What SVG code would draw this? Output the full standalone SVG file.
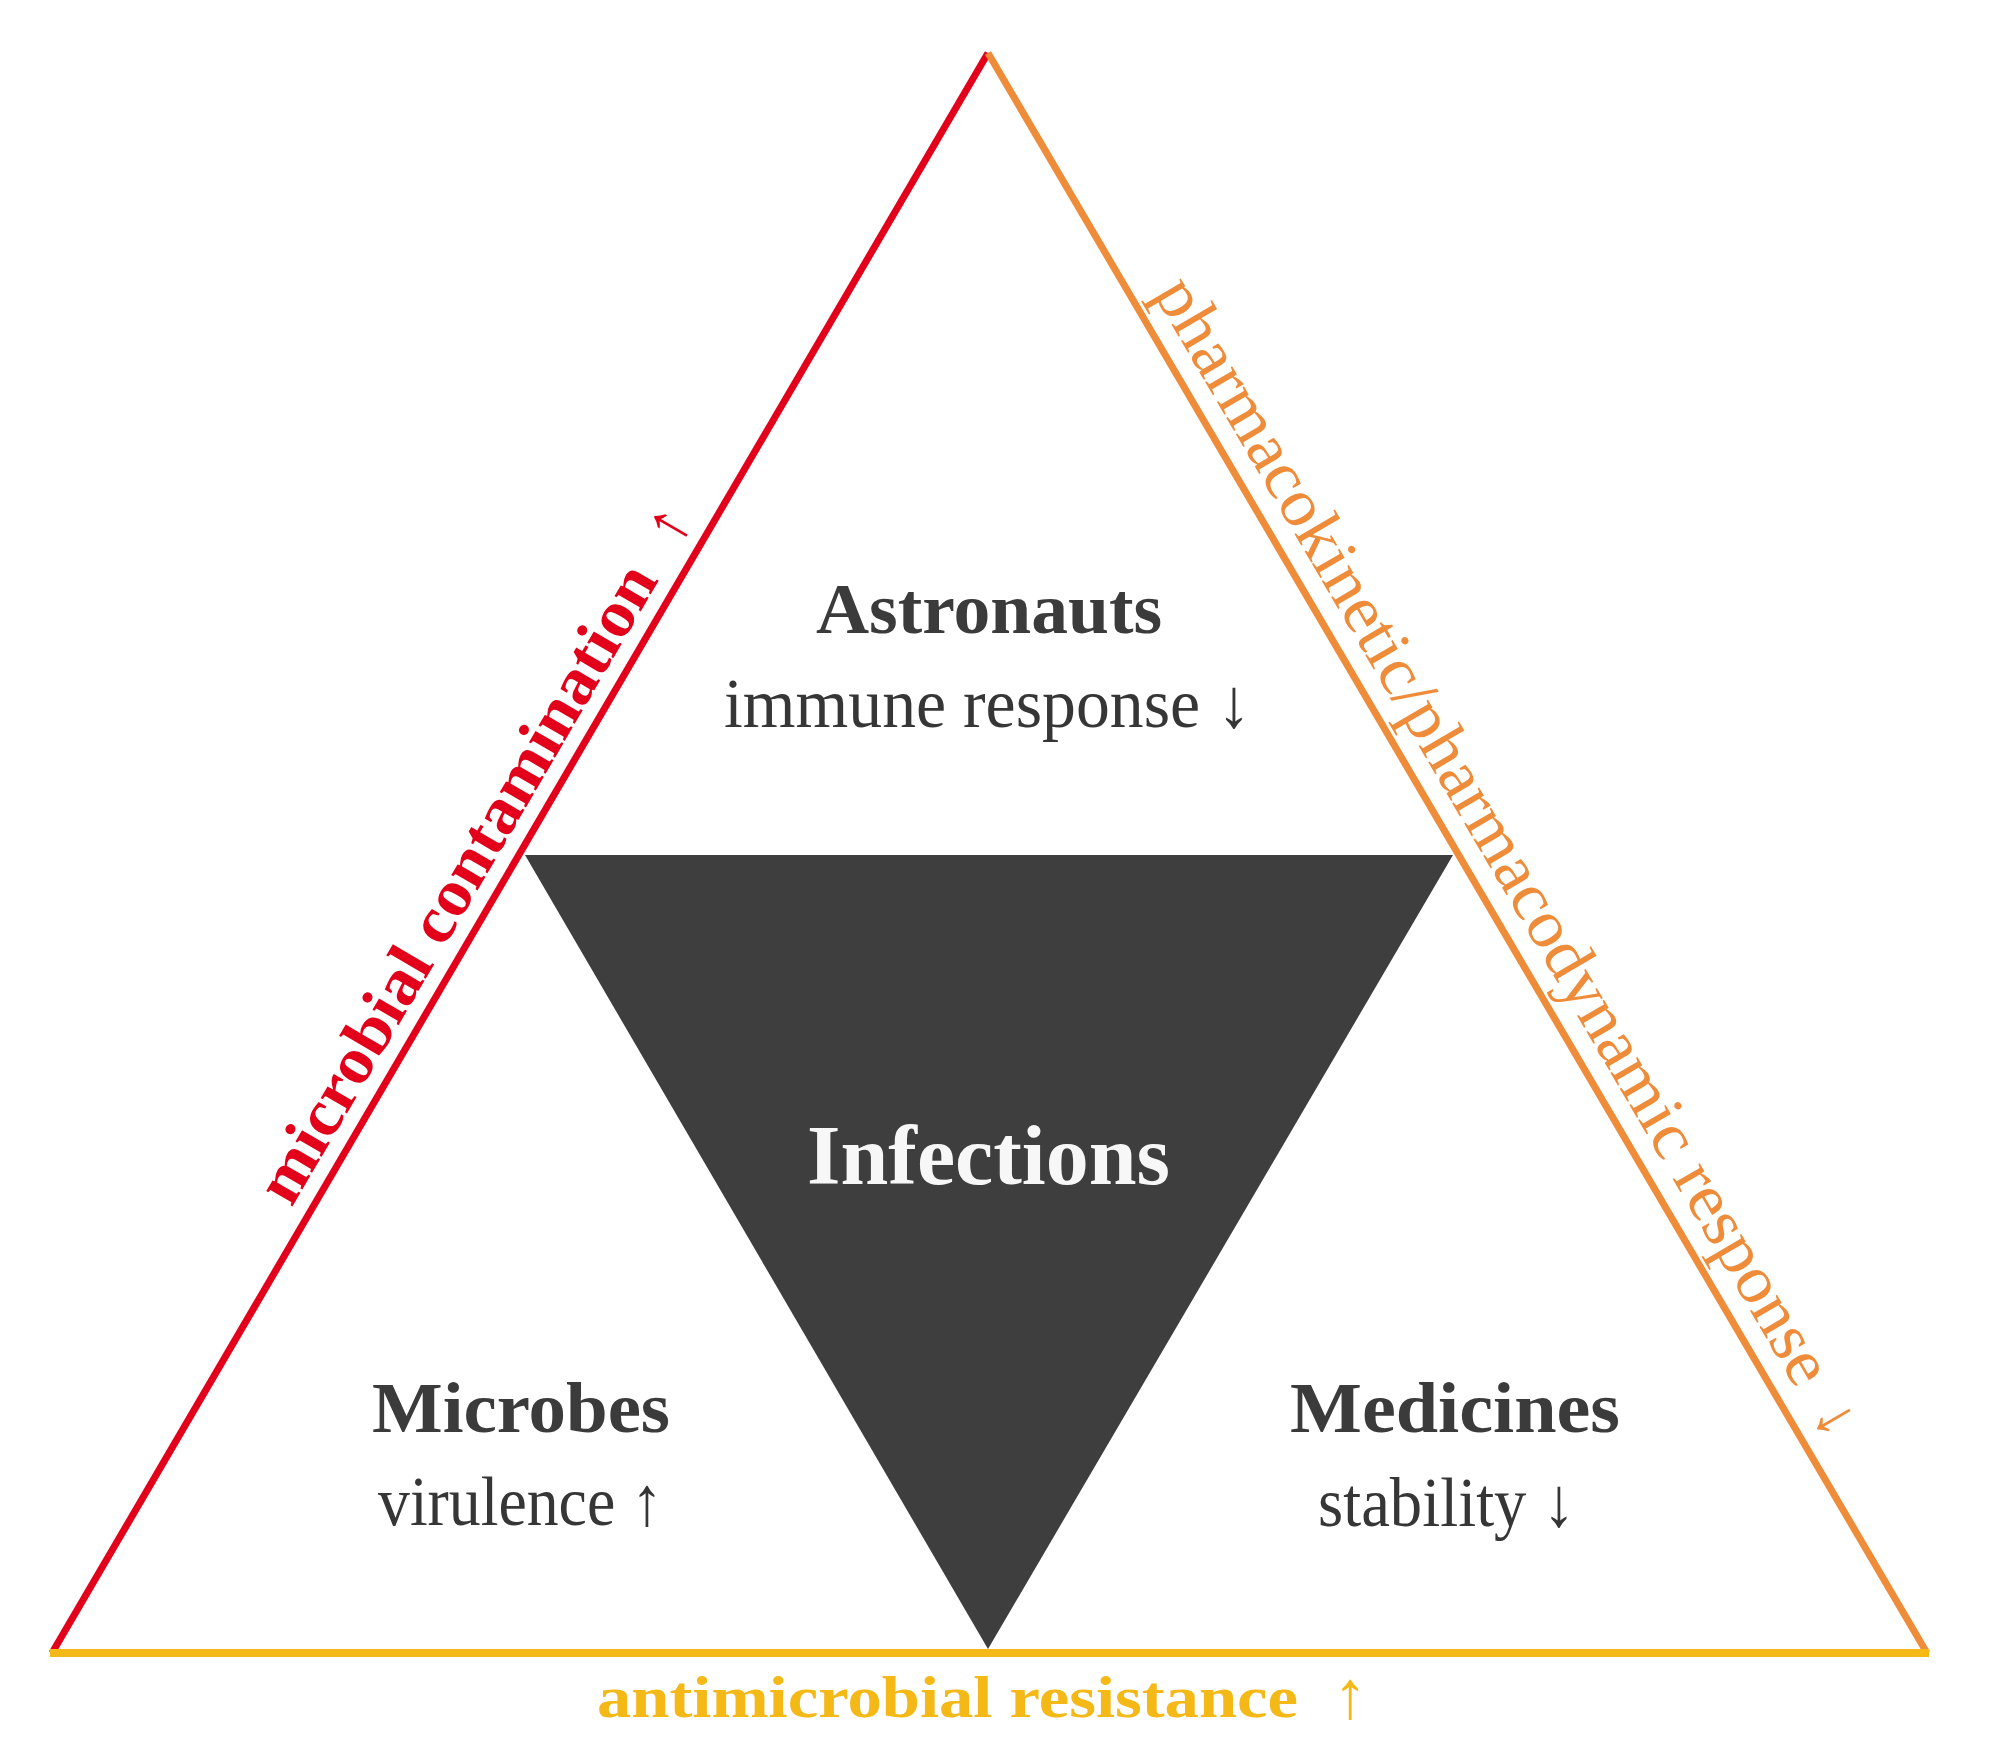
<svg xmlns="http://www.w3.org/2000/svg" width="1992" height="1756" viewBox="0 0 1992 1756">
<style>
.serif{font-family:"Liberation Serif","Times New Roman",serif}
.head{font-family:"Liberation Serif",serif;font-weight:bold;font-size:72px;fill:#3b3b3b}
.sub{font-family:"Liberation Serif",serif;font-size:70px;fill:#363636}
.edge{fill:none;stroke-linecap:butt}
</style>
<rect width="1992" height="1756" fill="#ffffff"/>
<g id="connectors">
  <line id="edge-microbes-astronauts" class="edge" x1="52" y1="1653" x2="988" y2="53" stroke="#e2001a" stroke-width="7"/>
  <line id="edge-astronauts-medicines" class="edge" x1="988" y1="53" x2="1927" y2="1653" stroke="#ef8c3a" stroke-width="7"/>
  <line id="edge-microbes-medicines" class="edge" x1="50" y1="1653" x2="1929" y2="1653" stroke="#f4b917" stroke-width="8"/>
  <g id="label-microbial" transform="translate(291.5,1208) rotate(-59.67)">
    <text class="serif" x="0" y="0" font-size="66" font-weight="bold" fill="#e2001a" textLength="728" lengthAdjust="spacingAndGlyphs">microbial contamination</text>
    <text class="serif" x="764" y="0" font-size="64" fill="#e2001a">↑</text>
  </g>
  <g id="label-pharmaco" transform="translate(1153,293) rotate(59.6)">
    <text class="serif" x="0" y="0" font-size="68" fill="#ef8c3a" textLength="1272" lengthAdjust="spacingAndGlyphs">pharmacokinetic/pharmacodynamic response</text>
    <text class="serif" x="1300" y="0" font-size="64" fill="#ef8c3a">↓</text>
  </g>
  <g id="label-amr">
    <text class="serif" x="597" y="1717" font-size="60" font-weight="bold" fill="#f4b917" textLength="701" lengthAdjust="spacingAndGlyphs">antimicrobial resistance</text>
    <text class="serif" x="1333" y="1718" font-size="68" fill="#f4b917">↑</text>
  </g>
</g>
<g id="infections">
  <polygon points="525,855 1453,855 988,1649" fill="#3e3e3e"/>
  <text class="serif" x="807" y="1184" font-size="84" font-weight="bold" fill="#f7f7f7" textLength="363" lengthAdjust="spacingAndGlyphs">Infections</text>
</g>
<g id="astronauts">
  <text class="head" x="816" y="633" textLength="346" lengthAdjust="spacingAndGlyphs">Astronauts</text>
  <text class="sub" x="724" y="727" textLength="527" lengthAdjust="spacingAndGlyphs">immune response ↓</text>
</g>
<g id="microbes">
  <text class="head" x="372" y="1432" textLength="298" lengthAdjust="spacingAndGlyphs">Microbes</text>
  <text class="sub" x="378" y="1525" textLength="285" lengthAdjust="spacingAndGlyphs">virulence ↑</text>
</g>
<g id="medicines">
  <text class="head" x="1290" y="1432" textLength="330" lengthAdjust="spacingAndGlyphs">Medicines</text>
  <text class="sub" x="1318" y="1526" textLength="257" lengthAdjust="spacingAndGlyphs">stability ↓</text>
</g>
</svg>
